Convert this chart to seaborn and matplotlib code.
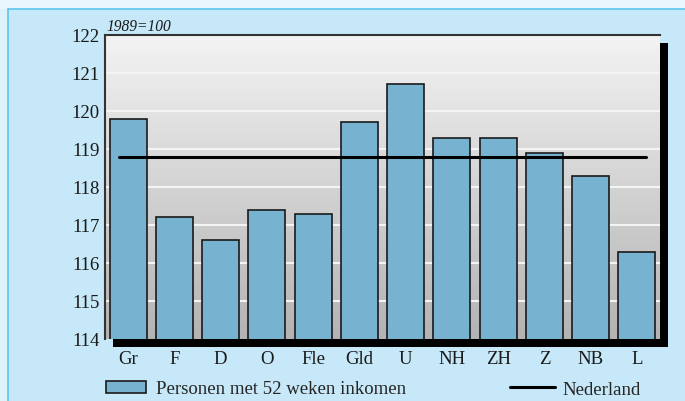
import matplotlib
matplotlib.use('Agg')
import matplotlib.pyplot as plt
from matplotlib.patches import Rectangle, Patch
from matplotlib.lines import Line2D
import numpy as np
import pandas as pd
import seaborn as sns

regions = ['Gr', 'F', 'D', 'O', 'Fle', 'Gld', 'U', 'NH', 'ZH', 'Z', 'NB', 'L']
index_52w = [119.8, 117.2, 116.6, 117.4, 117.3, 119.7, 120.7, 119.3, 119.3, 118.9, 118.3, 116.3]
nederland = 118.8
y_ticks = [114, 115, 116, 117, 118, 119, 120, 121, 122]

BAR = '#77b3d0'
PANEL = '#c6e8f8'
FS = 13.5

sns.set_style('white')
plt.rcParams['font.family'] = ['Liberation Serif', 'DejaVu Serif']

W, H = 685, 402
fig = plt.figure(figsize=(W / 100, H / 100), dpi=100)
fig.patch.set_facecolor(PANEL)

# lichte randen en blauwe lijn rond het paneel
fig.patches.append(Rectangle((0, 1 - 10 / H), 1, 10 / H, transform=fig.transFigure,
                             facecolor='#eaf6fd', edgecolor='none', zorder=-3))
fig.patches.append(Rectangle((0, 0), 8 / W, 1 - 10 / H, transform=fig.transFigure,
                             facecolor='#def2fc', edgecolor='none', zorder=-3))
fig.add_artist(Line2D([8 / W, 1], [1 - 10 / H, 1 - 10 / H], transform=fig.transFigure,
                      color='#5cc6ee', lw=1.2, zorder=-2))
fig.add_artist(Line2D([8 / W, 8 / W], [0, 1 - 10 / H], transform=fig.transFigure,
                      color='#5cc6ee', lw=1.2, zorder=-2))

x0, x1, y0, y1 = 105, 660, 36, 340
ax = fig.add_axes([x0 / W, 1 - y1 / H, (x1 - x0) / W, (y1 - y0) / H])

# zwarte schaduw achter de plot
fig.patches.append(Rectangle(((x0 + 8) / W, 1 - (y1 + 8) / H), (x1 - x0) / W, (y1 - y0) / H,
                             transform=fig.transFigure, facecolor='black',
                             edgecolor='none', zorder=-1))

df = pd.DataFrame({'regio': regions, 'index': index_52w})
sns.barplot(data=df, x='regio', y='index', color=BAR, saturation=1, width=0.8,
            edgecolor='#1a1a1a', linewidth=1.2, ax=ax, zorder=3)

# grijze verloopachtergrond
grad = np.linspace(0, 1, 256).reshape(-1, 1)
ax.imshow(grad, cmap=matplotlib.colors.LinearSegmentedColormap.from_list('g', ['#f3f3f3', '#b3b3b3']),
          extent=[-0.5, 11.5, 114, 122], aspect='auto', zorder=0, origin='upper')

for t in y_ticks[1:-1]:
    ax.axhline(t, color='#f4f4f4', lw=1.5, zorder=1)

ax.plot([-0.2, 11.2], [nederland, nederland], color='black', lw=2.2, zorder=4)

ax.set_xlim(-0.5, 11.5)
ax.set_ylim(114, 122)
ax.set_yticks(y_ticks)
ax.set_xlabel('')
ax.set_ylabel('')
ax.tick_params(axis='both', labelsize=FS, colors='#1a1a1a', length=0)
ax.tick_params(axis='x', pad=8)
ax.tick_params(axis='y', pad=4)
for side in ['left', 'top']:
    ax.spines[side].set_color('#333333')
    ax.spines[side].set_linewidth(1.5)
for side in ['right', 'bottom']:
    ax.spines[side].set_visible(False)

fig.text(x0 / W + 0.002, 1 - 31 / H, '1989=100', fontsize=11.2, style='italic', color='#1a1a1a')

fig.legend(handles=[Patch(facecolor=BAR, edgecolor='#1a1a1a', lw=1.2,
                          label='Personen met 52 weken inkomen')],
           loc='center left', bbox_to_anchor=(89.5 / W, 1 - 390 / H), frameon=False,
           fontsize=FS, handlelength=2.1, handleheight=0.65, handletextpad=0.55)
fig.legend(handles=[Line2D([0], [0], color='black', lw=2.2, label='Nederland')],
           loc='center left', bbox_to_anchor=(493.5 / W, 1 - 390 / H), frameon=False,
           fontsize=FS, handlelength=2.4, handletextpad=0.37)

fig.savefig('out.png', dpi=100, facecolor=fig.get_facecolor())
